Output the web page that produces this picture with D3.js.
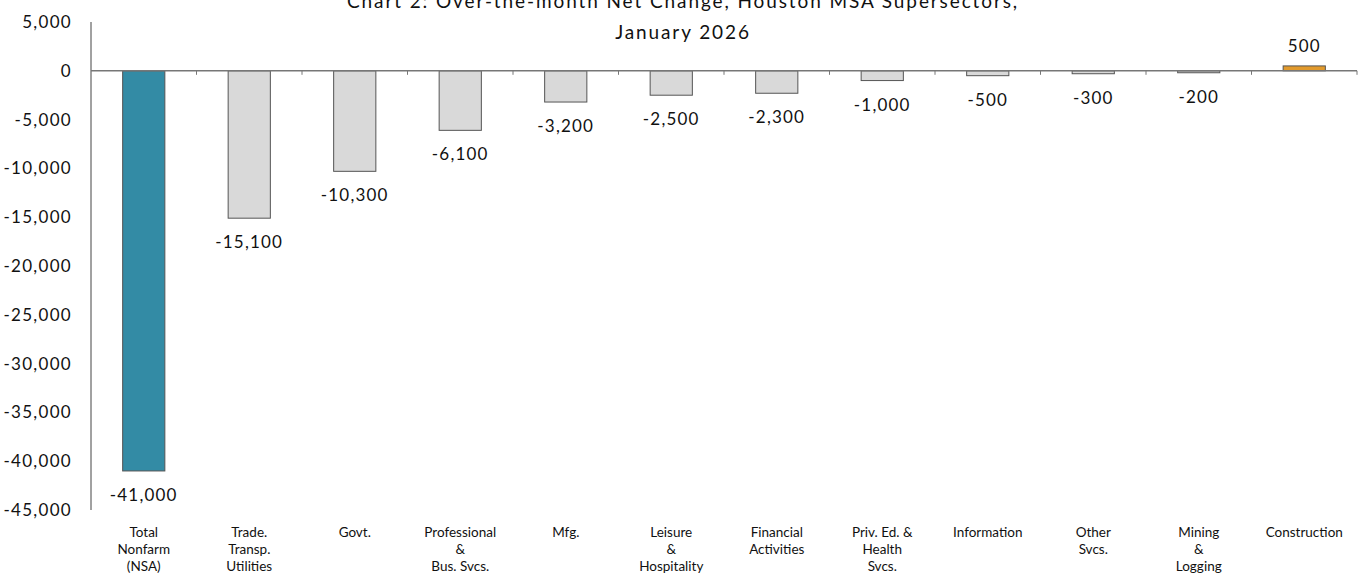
<!DOCTYPE html>
<html>
<head>
<meta charset="utf-8">
<script src="https://cdn.jsdelivr.net/npm/d3@7/dist/d3.min.js"></script>
<style>
  html, body { margin: 0; padding: 0; background: #fff; }
  svg { display: block; font-family: "Lato", "Open Sans", sans-serif; }
</style>
</head>
<body>
<svg id="chart" width="1362" height="578"></svg>
<script>
// Supersector labels (multi-line) and over-the-month net change
const categories = [
  ["Total", "Nonfarm", "(NSA)"],
  ["Trade.", "Transp.", "Utilities"],
  ["Govt."],
  ["Professional", "&", "Bus. Svcs."],
  ["Mfg."],
  ["Leisure", "&", "Hospitality"],
  ["Financial", "Activities"],
  ["Priv. Ed. &", "Health", "Svcs."],
  ["Information"],
  ["Other", "Svcs."],
  ["Mining", "&", "Logging"],
  ["Construction"]
];
const values = [-41000, -15100, -10300, -6100, -3200, -2500, -2300, -1000, -500, -300, -200, 500];
const yTicks = [5000, 0, -5000, -10000, -15000, -20000, -25000, -30000, -35000, -40000, -45000];
const titleLines = ["Chart 2: Over-the-month Net Change, Houston MSA Supersectors,", "January 2026"];

const svg = d3.select("#chart");
const margin = { top: 22, right: 5, bottom: 68, left: 91 };
const W = 1362, H = 578;
const innerW = W - margin.left - margin.right;
const innerH = H - margin.top - margin.bottom;

const g = svg.append("g").attr("transform", `translate(${margin.left},${margin.top})`);

const x = d3.scaleBand().domain(d3.range(categories.length)).range([0, innerW]).paddingInner(0.6).paddingOuter(0.3);
const y = d3.scaleLinear().domain([-45000, 5000]).range([innerH, 0]);
// thousands separator with a plain hyphen for negatives
const comma = d3.format(",");
const fmt = v => comma(v).replace("\u2212", "-");

function barColor(i, v) {
  if (i === 0) return "#338ba5";
  if (v > 0) return "#e29a2c";
  return "#d9d9d9";
}

// Y axis
g.append("line").attr("x1", 0).attr("x2", 0).attr("y1", 0).attr("y2", innerH)
  .attr("stroke", "#444").attr("stroke-width", 1);
g.selectAll(".ytick").data(yTicks).enter().append("text")
  .attr("x", -19).attr("y", d => y(d)).attr("dy", "0.35em")
  .attr("text-anchor", "end").attr("font-size", 17).attr("letter-spacing", 1.3).attr("fill", "#111")
  .text(d => fmt(d));

// Bars
g.selectAll(".bar").data(values).enter().append("rect")
  .attr("x", (d, i) => x(i))
  .attr("y", d => y(Math.max(0, d)))
  .attr("width", x.bandwidth())
  .attr("height", d => Math.abs(y(d) - y(0)))
  .attr("fill", (d, i) => barColor(i, d))
  .attr("stroke", "#555").attr("stroke-width", 1);

// Zero line with category boundary ticks
const step = x.step();
g.append("line").attr("x1", 0).attr("x2", innerW).attr("y1", y(0)).attr("y2", y(0))
  .attr("stroke", "#777").attr("stroke-width", 1.5);
g.selectAll(".xtick").data(d3.range(1, categories.length + 1)).enter().append("line")
  .attr("x1", d => d * step).attr("x2", d => d * step)
  .attr("y1", y(0)).attr("y2", y(0) + 4)
  .attr("stroke", "#777").attr("stroke-width", 1);

// Value labels
g.selectAll(".vlab").data(values).enter().append("text")
  .attr("x", (d, i) => x(i) + x.bandwidth() / 2)
  .attr("y", d => d < 0 ? y(d) + 24 : y(d) - 20)
  .attr("dy", "0.35em").attr("text-anchor", "middle")
  .attr("font-size", 17).attr("letter-spacing", 1.2).attr("fill", "#111")
  .text(d => fmt(d));

// Category labels
const cat = g.selectAll(".cat").data(categories).enter().append("text")
  .attr("text-anchor", "middle").attr("font-size", 13.5).attr("fill", "#111")
  .attr("transform", (d, i) => `translate(${x(i) + x.bandwidth() / 2},${innerH + 22})`);
cat.selectAll("tspan").data(d => d).enter().append("tspan")
  .attr("x", 0).attr("y", (d, j) => j * 17).attr("dy", "0.35em")
  .text(d => d);

// Title
svg.selectAll(".title").data(titleLines).enter().append("text")
  .attr("x", 683).attr("y", (d, i) => 8 + i * 31)
  .attr("text-anchor", "middle").attr("font-size", 19).attr("letter-spacing", 1.9).attr("fill", "#111")
  .text(d => d);
</script>
</body>
</html>
